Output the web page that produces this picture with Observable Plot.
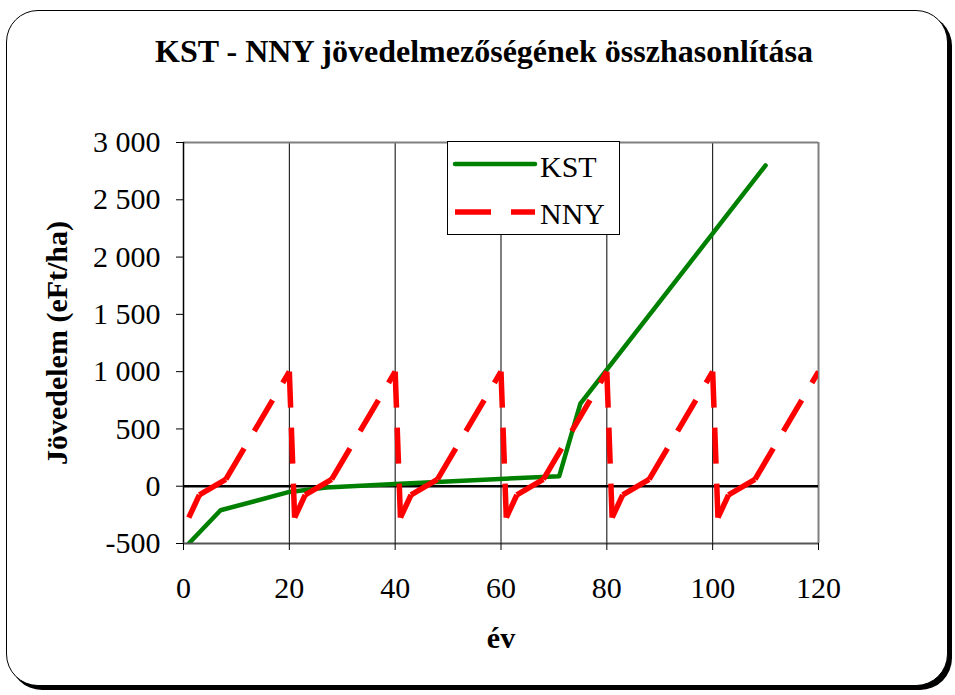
<!DOCTYPE html>
<html><head><meta charset="utf-8">
<script src="https://cdn.jsdelivr.net/npm/d3@7"></script>
<script src="https://cdn.jsdelivr.net/npm/@observablehq/plot@0.6"></script>
<style>
body{margin:0;background:#fff;}
#wrap{position:relative;width:955px;height:695px;overflow:hidden;font-family:"Liberation Serif","Times New Roman",Times,"DejaVu Serif","Noto Serif",serif;}
#border{position:absolute;left:6px;top:10px;width:940px;height:674px;border:1.5px solid #000;border-radius:32px;box-shadow:4px 4px 0 #000;background:#fff;}
#title{position:absolute;left:84px;width:800px;top:35px;text-align:center;font-size:32px;font-weight:bold;line-height:1;}
#chart{position:absolute;left:0;top:0;}
#legend{position:absolute;left:447px;top:141px;width:173px;height:94px;border:1.5px solid #000;background:#fff;box-sizing:border-box;}
#legend svg{position:absolute;left:-1.5px;top:-1.5px;overflow:visible;}
</style>
</head>
<body>
<div id="wrap">
  <div id="border"></div>
  <div id="chart"></div>
  <div id="title"></div>
  <div id="legend"></div>
</div>
<script>
// ---- data ----
const titleText = "KST - NNY jövedelmezőségének összhasonlítása";
const yLabel = "Jövedelem (eFt/ha)";
const xLabel = "év";
const seriesNames = ["KST", "NNY"];
const seriesColors = ["#008000", "#ff0000"];

const kstYears  = [1, 7, 20, 27, 40, 71, 75, 110];
const kstValues = [-500, -210, -50, -12, 20, 88, 720, 2800];

const nnyYears  = [1, 3, 8, 20, 21, 23, 28, 40, 41, 43, 48, 60, 61, 63, 68, 80, 81, 83, 88, 100, 101, 103, 108, 120];
const nnyValues = [-275, -75, 60, 1000, -275, -75, 60, 1000, -275, -75, 60, 1000, -275, -75, 60, 1000, -275, -75, 60, 1000, -275, -75, 60, 1000];

const xTicks = [0, 20, 40, 60, 80, 100, 120];
const yTicks = [-500, 0, 500, 1000, 1500, 2000, 2500, 3000];
const xGrid = [20, 40, 60, 80, 100];

// ---- build ----
const kst = kstYears.map((x, i) => ({x, y: kstValues[i]}));
const nnySeg = nnyYears.slice(1).map((x, i) => ({x1: nnyYears[i], y1: nnyValues[i], x2: x, y2: nnyValues[i + 1]}));

const fmt = d3.formatLocale({decimal: ",", thousands: " ", grouping: [3], currency: ["", ""], minus: "-"}).format(",d");
const FONT = "'Liberation Serif', 'Times New Roman', Times, 'DejaVu Serif', 'Noto Serif', serif";

const chart = Plot.plot({
  width: 955, height: 695,
  marginLeft: 183, marginRight: 137, marginTop: 142, marginBottom: 152,
  x: {domain: [0, 120]},
  y: {domain: [-500, 3000]},
  style: {fontFamily: FONT, background: "transparent", color: "#000", overflow: "visible"},
  marks: [
    Plot.ruleX(xGrid, {stroke: "#000", strokeWidth: 1}),
    Plot.ruleX([120], {stroke: "#808080", strokeWidth: 2}),
    Plot.ruleY([3000], {stroke: "#808080", strokeWidth: 2}),
    Plot.ruleY([0], {stroke: "#000", strokeWidth: 2.5}),
    Plot.line(kst, {x: "x", y: "y", stroke: seriesColors[0], strokeWidth: 4.5, strokeLinejoin: "round", strokeLinecap: "round", clip: true}),
    Plot.link(nnySeg, {x1: "x1", y1: "y1", x2: "x2", y2: "y2", stroke: seriesColors[1], strokeWidth: 5.5, strokeDasharray: "36,20", strokeLinecap: "butt", clip: true}),
    Plot.ruleX([0], {stroke: "#000", strokeWidth: 1.5}),
    Plot.ruleY([-500], {stroke: "#555", strokeWidth: 2}),
    Plot.axisX({ticks: xTicks, tickSize: 7, tickPadding: 26, fontSize: 30, fontFamily: FONT, label: null}),
    Plot.axisY({ticks: yTicks, tickSize: 7, tickPadding: 16, fontSize: 30, fontFamily: FONT, label: null, tickFormat: fmt}),
    Plot.text([yLabel], {frameAnchor: "left", textAnchor: "middle", dx: -126, rotate: -90, fontSize: 30, fontWeight: "bold", fontFamily: FONT}),
    Plot.text([xLabel], {frameAnchor: "bottom", dy: 104, fontSize: 30, fontWeight: "bold", fontFamily: FONT})
  ]
});
document.getElementById("chart").appendChild(chart);
document.getElementById("title").textContent = titleText;

// legend
const lg = d3.select("#legend").append("svg").attr("width", 173).attr("height", 94);
lg.append("line").attr("x1", 8).attr("x2", 88).attr("y1", 23).attr("y2", 23)
  .attr("stroke", seriesColors[0]).attr("stroke-width", 4.5).attr("stroke-linecap", "round");
lg.append("line").attr("x1", 8).attr("x2", 88).attr("y1", 71).attr("y2", 71)
  .attr("stroke", seriesColors[1]).attr("stroke-width", 5.5).attr("stroke-dasharray", "36,20");
lg.selectAll("text").data(seriesNames).join("text")
  .attr("x", 93).attr("y", (d, i) => i === 0 ? 36 : 83)
  .style("font-family", FONT).attr("font-size", 30).text(d => d);
</script>
</body></html>
